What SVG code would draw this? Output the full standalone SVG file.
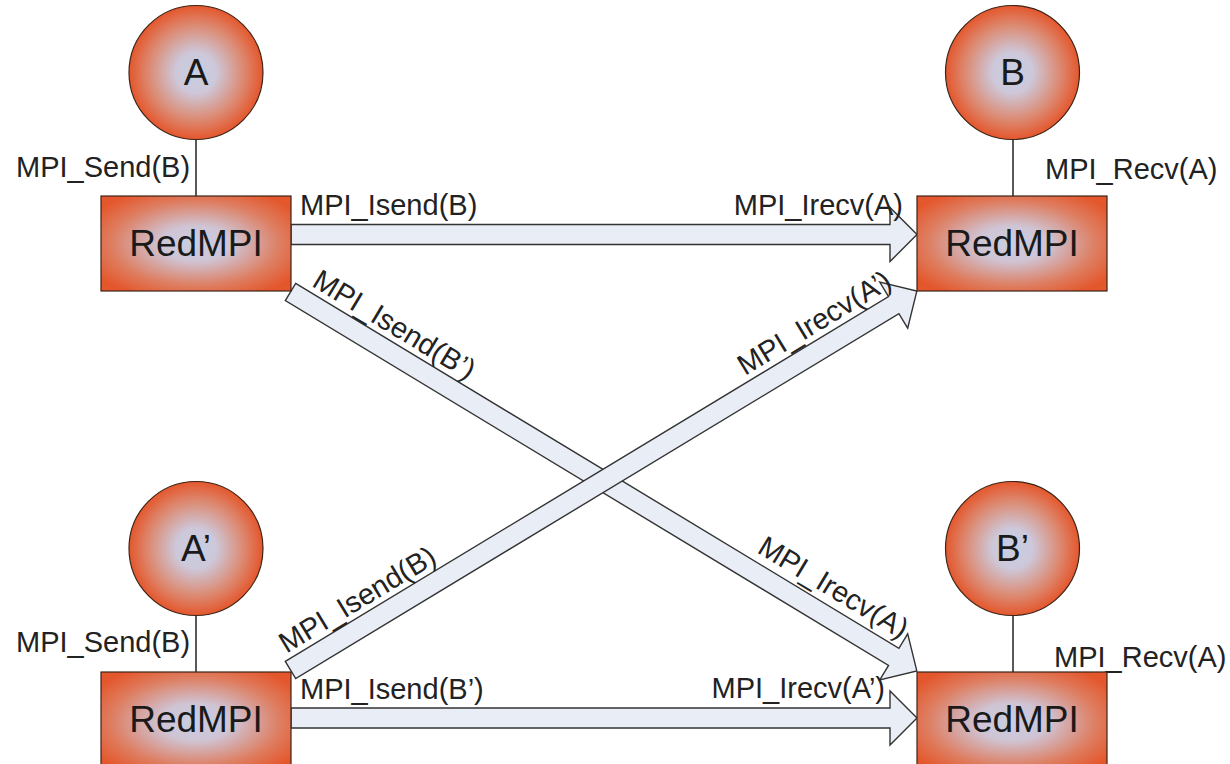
<svg xmlns="http://www.w3.org/2000/svg" width="1230" height="764" viewBox="0 0 1230 764">
<defs>
<radialGradient id="gc" cx="0.5" cy="0.5" r="0.5">
<stop offset="0" stop-color="#C8CEE3"/>
<stop offset="0.3" stop-color="#CDC8DA"/>
<stop offset="0.7" stop-color="#DC8B74"/>
<stop offset="1" stop-color="#E4572C"/>
</radialGradient>
<radialGradient id="gr" cx="0.5" cy="0.5" r="0.62">
<stop offset="0" stop-color="#C8CEE3"/>
<stop offset="0.3" stop-color="#CFC4D4"/>
<stop offset="0.72" stop-color="#DE7D60"/>
<stop offset="1" stop-color="#E4572C"/>
</radialGradient>
<path id="harrow" d="M0,-10 H599 V-27 L626,0 L599,27 V10 H0 Z"/>
<path id="darrow" d="M0,-10 H705 V-27 L732,0 L705,27 V10 H0 Z"/>
</defs>
<style>
.circ{fill:url(#gc);stroke:#3d2418;stroke-width:1.2}
.box{fill:url(#gr);stroke:#3d2418;stroke-width:1.2}
.link{stroke:#222;stroke-width:1.5;fill:none}
.arr{fill:#E8EDF6;stroke:#333;stroke-width:1.4}
.lbl{font-family:"Liberation Sans",Arial,sans-serif;font-size:29px;fill:#222}
.big{font-family:"Liberation Sans",Arial,sans-serif;font-size:37px;fill:#1a1a1a;text-anchor:middle}
</style>
<rect width="1230" height="764" fill="#ffffff"/>

<g id="connectors">
<line class="link" x1="196" y1="139" x2="196" y2="196"/>
<line class="link" x1="1013" y1="139" x2="1013" y2="196"/>
<line class="link" x1="196" y1="615" x2="196" y2="672"/>
<line class="link" x1="1013" y1="615" x2="1013" y2="672"/>
<use href="#harrow" class="arr" transform="translate(291,234.5)"/>
<use href="#harrow" class="arr" transform="translate(291,718)"/>
<use href="#darrow" class="arr" transform="translate(290.5,292) rotate(31.17)"/>
<use href="#darrow" class="arr" transform="translate(290.5,670) rotate(-31.17)"/>
<text class="lbl" x="16" y="177">MPI_Send(B)</text>
<text class="lbl" x="1045" y="179">MPI_Recv(A)</text>
<text class="lbl" x="16" y="652">MPI_Send(B)</text>
<text class="lbl" x="1054" y="667">MPI_Recv(A)</text>
<text class="lbl" x="300" y="215">MPI_Isend(B)</text>
<text class="lbl" x="903" y="215" text-anchor="end">MPI_Irecv(A)</text>
<text class="lbl" x="300" y="699">MPI_Isend(B’)</text>
<text class="lbl" x="885" y="698" text-anchor="end">MPI_Irecv(A’)</text>
<text class="lbl" transform="translate(310.8,285.5) rotate(31.17)">MPI_Isend(B’)</text>
<text class="lbl" transform="translate(756,552) rotate(31.17)">MPI_Irecv(A)</text>
<text class="lbl" transform="translate(286.5,653.7) rotate(-31.17)">MPI_Isend(B)</text>
<text class="lbl" transform="translate(745,376) rotate(-31.17)">MPI_Irecv(A’)</text>
</g>

<g id="node-A">
<circle class="circ" cx="196" cy="72.5" r="67"/>
<text class="big" x="196" y="85">A</text>
</g>
<g id="node-B">
<circle class="circ" cx="1012.5" cy="72.5" r="67"/>
<text class="big" x="1012.5" y="85">B</text>
</g>
<g id="node-A2">
<circle class="circ" cx="196" cy="548.5" r="67"/>
<text class="big" x="196" y="561">A’</text>
</g>
<g id="node-B2">
<circle class="circ" cx="1012.5" cy="548.5" r="67"/>
<text class="big" x="1012.5" y="561">B’</text>
</g>
<g id="redmpi-A">
<rect class="box" x="101" y="196" width="190" height="95"/>
<text class="big" x="196" y="256">RedMPI</text>
</g>
<g id="redmpi-B">
<rect class="box" x="917" y="196" width="190" height="95"/>
<text class="big" x="1012" y="256">RedMPI</text>
</g>
<g id="redmpi-A2">
<rect class="box" x="101" y="672" width="190" height="100"/>
<text class="big" x="196" y="732">RedMPI</text>
</g>
<g id="redmpi-B2">
<rect class="box" x="917" y="672" width="190" height="100"/>
<text class="big" x="1012" y="732">RedMPI</text>
</g>
</svg>
